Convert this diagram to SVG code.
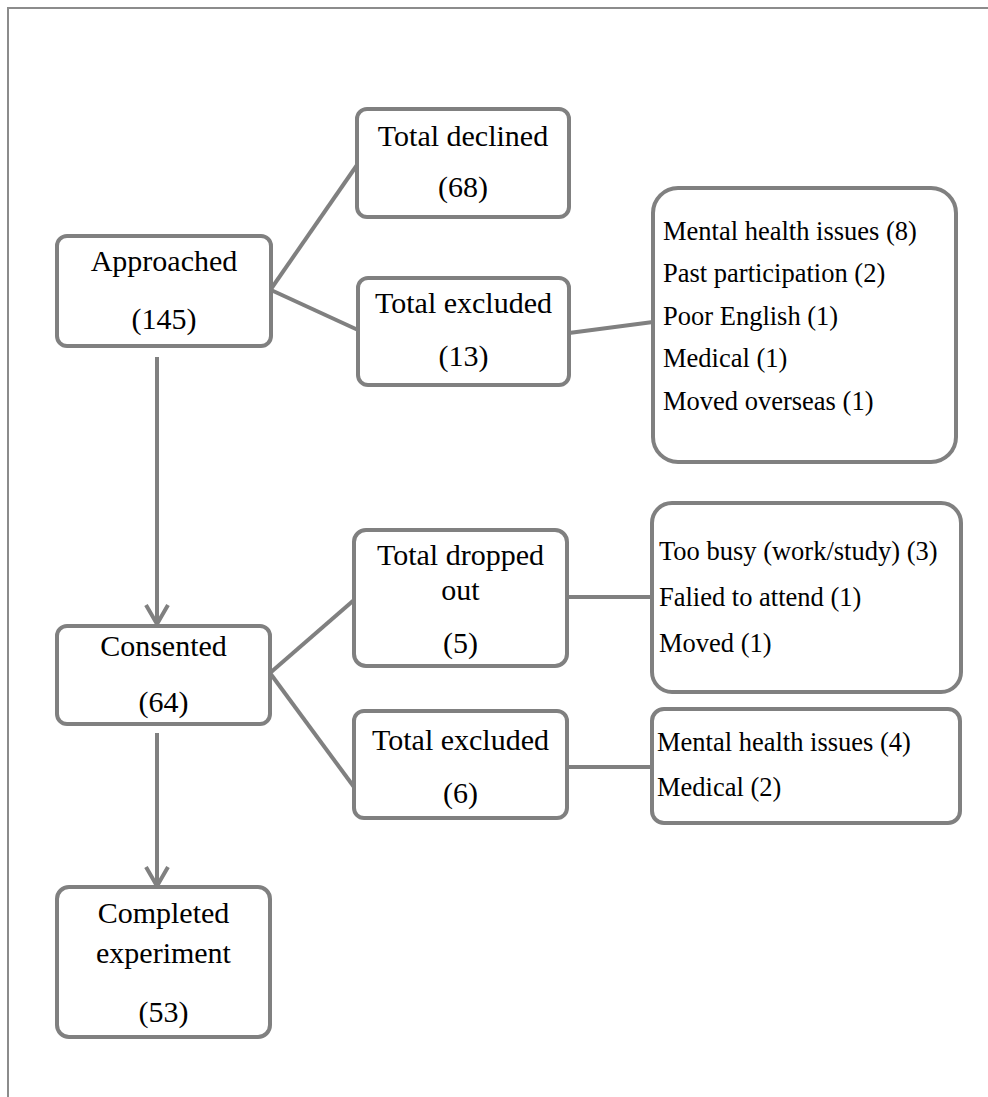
<svg xmlns="http://www.w3.org/2000/svg" width="988" height="1097" viewBox="0 0 988 1097">
<style>
.box{fill:#fff;stroke:#808080;stroke-width:4}
.ln{fill:none;stroke:#808080;stroke-width:4}
.frame{fill:none;stroke:#8c8c8c;stroke-width:2}
.t{font-size:30px;fill:#000;text-anchor:middle}
.l{font-size:26.5px;fill:#000}
</style>
<rect width="988" height="1097" fill="#fff"/>
<path class="frame" d="M8,1097 V8 H988"/>
<g id="connectors">
<line class="ln" x1="271" y1="289" x2="357" y2="165"/>
<line class="ln" x1="271" y1="290" x2="358" y2="330"/>
<line class="ln" x1="569" y1="333" x2="653" y2="322"/>
<line class="ln" x1="157" y1="357" x2="157" y2="624"/>
<polyline class="ln" points="146,605 157,624 168,605"/>
<line class="ln" x1="270" y1="673" x2="354" y2="600"/>
<line class="ln" x1="270" y1="673" x2="354" y2="787"/>
<line class="ln" x1="567" y1="597" x2="652" y2="597"/>
<line class="ln" x1="567" y1="767" x2="652" y2="767"/>
<line class="ln" x1="157" y1="733" x2="157" y2="886"/>
<polyline class="ln" points="146,867 157,886 168,867"/>
</g>
<g font-family="Liberation Serif, Times New Roman, serif">
<g id="approached">
<rect class="box" x="57" y="236" width="214" height="110" rx="10"/>
<text class="t" x="164" y="271">Approached</text>
<text class="t" x="164" y="329">(145)</text>
</g>
<g id="declined">
<rect class="box" x="357" y="109" width="212" height="108" rx="10"/>
<text class="t" x="463" y="146">Total declined</text>
<text class="t" x="463" y="197">(68)</text>
</g>
<g id="excluded1">
<rect class="box" x="358" y="278" width="211" height="107" rx="10"/>
<text class="t" x="463.5" y="313">Total excluded</text>
<text class="t" x="463.5" y="366">(13)</text>
</g>
<g id="reasons1">
<rect class="box" x="653" y="188" width="303" height="274" rx="25"/>
<text class="l" x="663" y="240">Mental health issues (8)</text>
<text class="l" x="663" y="282">Past participation (2)</text>
<text class="l" x="663" y="325">Poor English (1)</text>
<text class="l" x="663" y="367">Medical (1)</text>
<text class="l" x="663" y="410">Moved overseas (1)</text>
</g>
<g id="consented">
<rect class="box" x="57" y="626" width="213" height="98" rx="10"/>
<text class="t" x="163.5" y="656">Consented</text>
<text class="t" x="163.5" y="712">(64)</text>
</g>
<g id="dropped">
<rect class="box" x="354" y="530" width="213" height="136" rx="12"/>
<text class="t" x="460.5" y="565">Total dropped</text>
<text class="t" x="460.5" y="600">out</text>
<text class="t" x="460.5" y="653">(5)</text>
</g>
<g id="excluded2">
<rect class="box" x="354" y="711" width="213" height="107" rx="10"/>
<text class="t" x="460.5" y="750">Total excluded</text>
<text class="t" x="460.5" y="803">(6)</text>
</g>
<g id="reasons2">
<rect class="box" x="652" y="503" width="309" height="189" rx="20"/>
<text class="l" x="659" y="560">Too busy (work/study) (3)</text>
<text class="l" x="659" y="606">Falied to attend (1)</text>
<text class="l" x="659" y="652">Moved (1)</text>
</g>
<g id="reasons3">
<rect class="box" x="652" y="709" width="308" height="114" rx="12"/>
<text class="l" x="657" y="751">Mental health issues (4)</text>
<text class="l" x="657" y="796">Medical (2)</text>
</g>
<g id="completed">
<rect class="box" x="57" y="887" width="213" height="150" rx="12"/>
<text class="t" x="163.5" y="923">Completed</text>
<text class="t" x="163.5" y="963">experiment</text>
<text class="t" x="163.5" y="1022">(53)</text>
</g>
</g>
</svg>
